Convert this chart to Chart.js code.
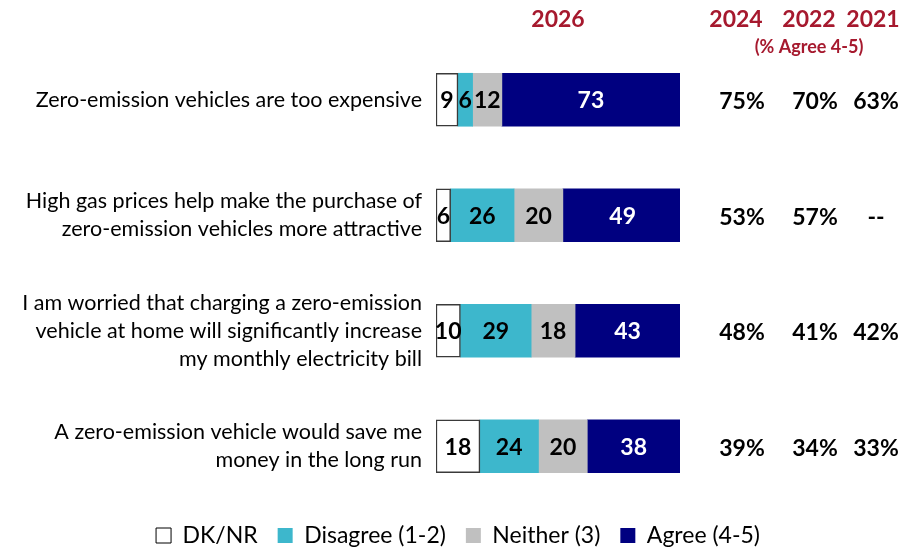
<!DOCTYPE html>
<html>
<head>
<meta charset="utf-8">
<script src="https://cdn.jsdelivr.net/npm/chart.js@4.4.1/dist/chart.umd.min.js"></script>
<style>
  html, body { margin: 0; padding: 0; background: #fff; }
  #wrap { width: 902px; height: 550px; }
</style>
</head>
<body>
<div id="wrap"><canvas id="agreeChart"></canvas></div>
<script>
// statements (one row per statement)
const statements = [
  ['Zero-emission vehicles are too expensive'],
  ['High gas prices help make the purchase of', 'zero-emission vehicles more attractive'],
  ['I am worried that charging a zero-emission', 'vehicle at home will significantly increase', 'my monthly electricity bill'],
  ['A zero-emission vehicle would save me', 'money in the long run']
];

// 2026 results (%)
const dkNr = [9, 6, 10, 18];
const disagree = [6, 26, 29, 24];
const neither = [12, 20, 18, 20];
const agree = [73, 49, 43, 38];

// past years, % agree 4-5
const trendYears = ['2024', '2022', '2021'];
const agree2024 = ['75%', '53%', '48%', '39%'];
const agree2022 = ['70%', '57%', '41%', '34%'];
const agree2021 = ['63%', '--', '42%', '33%'];

const FONT = 'Lato, "Open Sans", sans-serif';
const DARK_RED = '#A6192E';

// numbers inside the bars
const barLabels = {
  id: 'barLabels',
  afterDatasetsDraw(chart) {
    const ctx = chart.ctx;
    ctx.save();
    ctx.font = 'bold 23px ' + FONT;
    ctx.textAlign = 'center';
    ctx.textBaseline = 'middle';
    chart.data.datasets.forEach((ds, i) => {
      chart.getDatasetMeta(i).data.forEach((bar, j) => {
        ctx.fillStyle = i === 3 ? '#fff' : '#000';
        const x = (bar.x + bar.base) / 2;
        ctx.fillText(ds.data[j], x, bar.y + 1);
      });
    });
    ctx.restore();
  }
};

// year headers and the trend columns on the right
const trendColumns = {
  id: 'trendColumns',
  afterDraw(chart) {
    const ctx = chart.ctx;
    const area = chart.chartArea;
    const yScale = chart.scales.y;
    const cols = [agree2024, agree2022, agree2021];
    const headX = [736, 809, 873];
    const colX = [742, 815, 876];
    ctx.save();
    ctx.textAlign = 'center';
    ctx.textBaseline = 'middle';
    ctx.fillStyle = DARK_RED;
    ctx.font = 'bold 23px ' + FONT;
    ctx.fillText('2026', (area.left + area.right) / 2, 20);
    trendYears.forEach((yr, k) => ctx.fillText(yr, headX[k], 20));
    ctx.font = 'bold 18px ' + FONT;
    ctx.fillText('(% Agree 4-5)', 809, 47);
    ctx.fillStyle = '#000';
    ctx.font = 'bold 23px ' + FONT;
    cols.forEach((col, k) => {
      col.forEach((v, j) => {
        ctx.fillText(v, colX[k], yScale.getPixelForValue(j) + 2);
      });
    });
    ctx.restore();
  }
};

new Chart(document.getElementById('agreeChart'), {
  type: 'bar',
  data: {
    labels: statements,
    datasets: [
      { label: 'DK/NR', data: dkNr, backgroundColor: '#FFFFFF', borderColor: '#3a3a3a', borderWidth: 1.5, borderSkipped: false },
      { label: 'Disagree (1-2)', data: disagree, backgroundColor: '#3DB7CC' },
      { label: 'Neither (3)', data: neither, backgroundColor: '#C0C0C0' },
      { label: 'Agree (4-5)', data: agree, backgroundColor: '#000080' }
    ]
  },
  options: {
    indexAxis: 'y',
    responsive: true,
    maintainAspectRatio: false,
    animation: false,
    layout: { padding: { top: 42, right: 0, left: 14, bottom: -7 } },
    datasets: { bar: { barThickness: 53 } },
    scales: {
      x: { stacked: true, min: 0, max: 100, display: false },
      y: {
        stacked: true,
        grid: { display: false },
        border: { display: false },
        ticks: { color: '#000', font: { family: FONT, size: 21.5, lineHeight: 1.3 }, padding: 6 },
        afterFit(scale) { scale.width = 422; }
      },
      // empty axis that reserves room for the trend columns
      yRight: {
        position: 'right',
        display: true,
        grid: { display: false },
        border: { display: false },
        ticks: { display: false },
        afterFit(scale) { scale.width = 222; }
      }
    },
    plugins: {
      tooltip: { enabled: false },
      legend: {
        position: 'bottom',
        labels: {
          color: '#000',
          font: { family: FONT, size: 23 },
          boxWidth: 15,
          boxHeight: 15,
          padding: 20,
          generateLabels(chart) {
            return chart.data.datasets.map((ds, i) => ({
              text: ds.label,
              fillStyle: ds.backgroundColor,
              strokeStyle: i === 0 ? '#000' : ds.backgroundColor,
              lineWidth: i === 0 ? 1 : 0,
              datasetIndex: i,
              fontColor: '#000'
            }));
          }
        }
      }
    }
  },
  plugins: [barLabels, trendColumns]
});
</script>
</body>
</html>
